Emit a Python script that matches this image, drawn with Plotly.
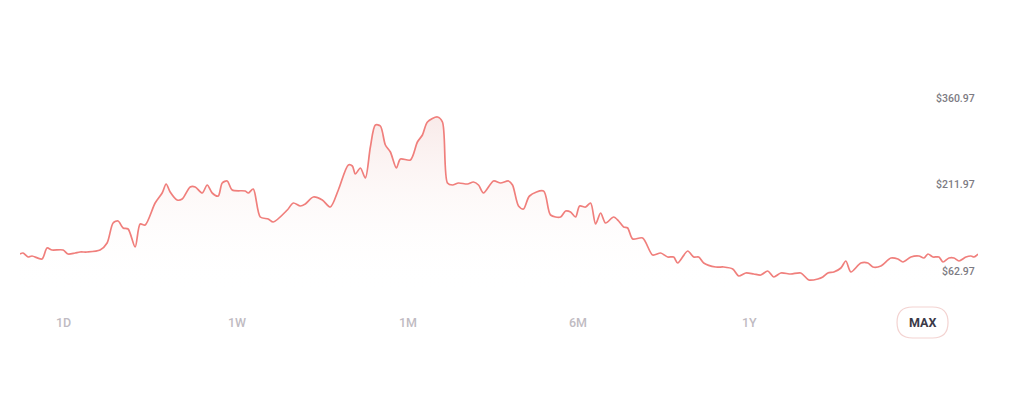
import plotly.graph_objects as go

# ---- data (time index, price in $) ----
t = [20, 23, 28, 32, 42, 47, 52, 63, 68, 75, 80, 87, 100, 107, 113, 118, 123, 128, 135, 140,
     145, 155, 162, 166, 170, 177, 182, 190, 195, 202, 207, 212, 218, 222, 227, 232, 245, 248,
     253, 260, 268, 273, 287, 293, 300, 305, 313, 322, 330, 338, 348, 352, 355, 360, 365, 370,
     375, 380, 385, 390, 396, 400, 410, 417, 422, 427, 437, 442, 447, 452, 458, 467, 473, 478,
     483, 493, 500, 508, 512, 518, 523, 529, 543, 550, 560, 565, 570, 575, 579, 585, 590, 595,
     600, 605, 613, 618, 623, 627, 632, 642, 652, 660, 667, 673, 677, 687, 693, 698, 703, 715,
     723, 732, 738, 745, 753, 760, 767, 773, 780, 790, 800, 808, 817, 822, 827, 833, 840, 845,
     850, 860, 867, 872, 880, 890, 897, 902, 910, 918, 923, 927, 932, 938, 942, 948, 953, 958,
     965, 970, 973, 977]
ypix = [254, 253, 257, 256, 259, 248, 250, 250, 254, 253, 252, 252, 250, 243, 223, 221, 228, 229, 247, 224,
        225, 203, 193, 184, 192, 200, 199, 187, 187, 193, 185, 193, 196, 183, 181, 190, 191, 193,
        189, 217, 219, 222, 210, 203, 206, 204, 197, 200, 207, 190, 165, 166, 174, 168, 178, 147,
        125, 126, 145, 152, 168, 159, 160, 142, 135, 122, 117, 122, 183, 185, 183, 184, 182, 185,
        193, 181, 183, 181, 185, 206, 209, 196, 191, 215, 217, 211, 212, 217, 206, 207, 203, 224,
        213, 223, 217, 221, 227, 228, 239, 238, 255, 253, 257, 257, 263, 251, 257, 257, 263, 267,
        267, 269, 276, 273, 274, 275, 271, 277, 273, 274, 273, 280, 279, 277, 273, 272, 268, 261,
        272, 263, 263, 267, 266, 258, 259, 262, 257, 256, 258, 254, 257, 257, 262, 258, 258, 261,
        257, 256, 257, 254]
price = [round(62.97 + (271 - y) * 1.7225, 2) for y in ypix]

price_labels = ["$360.97", "$211.97", "$62.97"]
price_levels = [360.97, 211.97, 62.97]
ranges = ["1D", "1W", "1M", "6M", "1Y", "MAX"]
active_range = "MAX"

LINE = "#f07f7c"
y_lo, y_hi = 30.24, 391.97

fig = go.Figure()
fig.add_trace(go.Scatter(
    x=t, y=price, mode="lines",
    line=dict(color=LINE, width=1.7, shape="spline", smoothing=0.8),
    fill="tozeroy",
    fillgradient=dict(type="vertical", start=y_lo, stop=max(price),
                      colorscale=[[0, "rgba(255,255,255,0)"], [1, "rgba(236,190,186,0.32)"]]),
    hoverinfo="skip", showlegend=False,
))

fig.update_layout(
    width=1024, height=401,
    margin=dict(l=12, r=54, t=72, b=119),
    paper_bgcolor="white", plot_bgcolor="white",
    xaxis=dict(range=[min(t), max(t)], visible=False, fixedrange=True),
    yaxis=dict(range=[y_lo, y_hi], visible=False, fixedrange=True),
    showlegend=False,
)

annotations = []
for lab, lvl in zip(price_labels, price_levels):
    annotations.append(dict(
        x=1.0, xref="paper", y=lvl, yref="y", text=lab, showarrow=False,
        xanchor="right", yanchor="middle", xshift=-1,
        font=dict(family="Roboto", size=10.5, color="#7d7b83", weight=500),
    ))

# range selector buttons
btn_x = [0.0459, 0.2265, 0.405, 0.5825, 0.762, 0.9421]
btn_y = -0.1548
for lab, bx in zip(ranges, btn_x):
    active = lab == active_range
    annotations.append(dict(
        x=bx, xref="paper", y=btn_y, yref="paper", text=f"<b>{lab}</b>" if active else lab,
        showarrow=False, xanchor="center", yanchor="middle",
        font=dict(family="Roboto", size=12.5, color="#3b3a48" if active else "#bfbbc2",
                  weight=700 if active else 500),
    ))
fig.update_layout(annotations=annotations)

# pill outline around active button
w, h, r = 51, 31, 15.5
hw, hh = w / 2, h / 2
path = (f"M {-hw + r},{-hh} L {hw - r},{-hh} Q {hw},{-hh} {hw},{-hh + r} "
        f"L {hw},{hh - r} Q {hw},{hh} {hw - r},{hh} L {-hw + r},{hh} "
        f"Q {-hw},{hh} {-hw},{hh - r} L {-hw},{-hh + r} Q {-hw},{-hh} {-hw + r},{-hh} Z")
fig.add_shape(type="path", xref="paper", yref="paper",
              xsizemode="pixel", ysizemode="pixel",
              xanchor=btn_x[ranges.index(active_range)], yanchor=btn_y,
              path=path, line=dict(color="#f3d3d1", width=1.2), fillcolor="rgba(0,0,0,0)")

fig.write_html("out.html", config=dict(displayModeBar=False))
